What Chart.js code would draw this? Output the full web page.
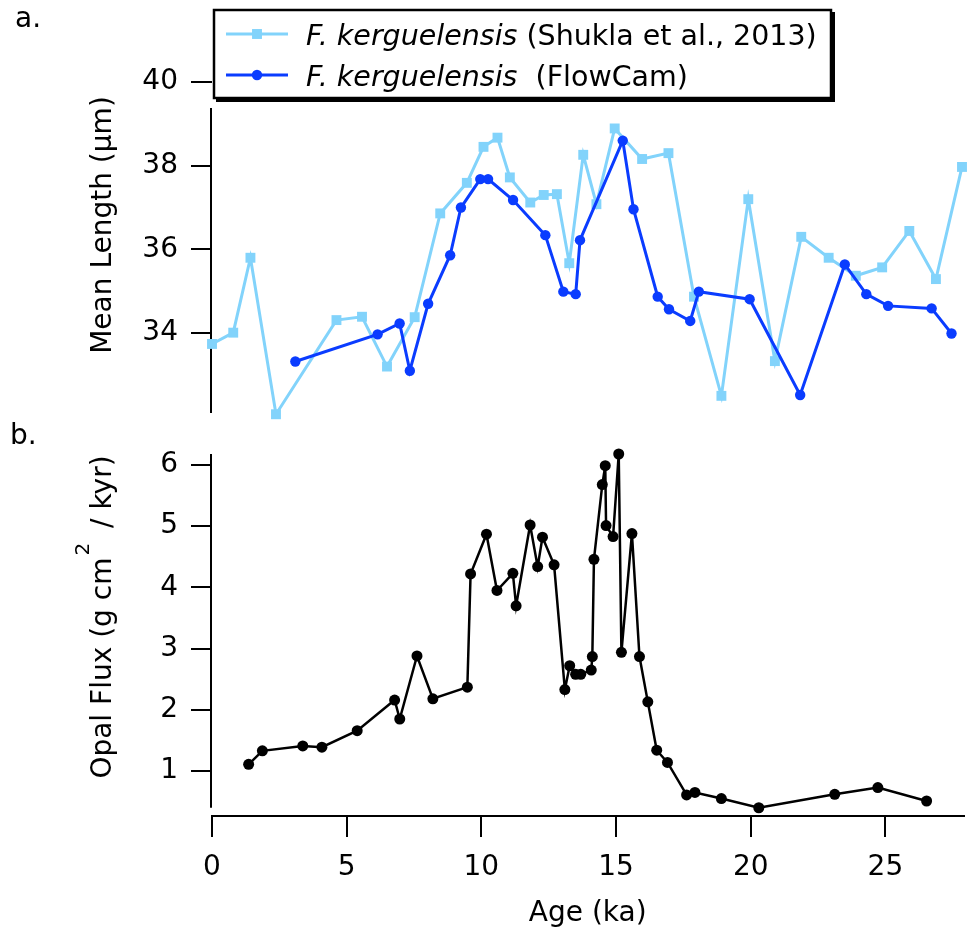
<!DOCTYPE html>
<html>
<head>
<meta charset="utf-8">
<title>F. kerguelensis mean length and opal flux</title>
<script src="https://cdn.jsdelivr.net/npm/chart.js@4.4.1/dist/chart.umd.min.js"></script>
<style>
  html, body { margin: 0; padding: 0; background: #fff; }
  #wrap { position: relative; width: 969px; height: 935px; }
  #wrap canvas { position: absolute; left: 0; top: 0; }
</style>
</head>
<body>
<div id="wrap">
  <canvas id="lengthChart" width="969" height="935"></canvas>
  <canvas id="opalChart" width="969" height="935"></canvas>
</div>
<script>
// ======================= DATA =======================

// panel a: Shukla et al., 2013
const ageShukla = [0, 0.79, 1.43, 2.38, 4.63, 5.58, 6.51, 7.54, 8.49, 9.48, 10.1, 10.62,
  11.08, 11.84, 12.34, 12.83, 13.29, 13.81, 14.3, 14.98, 16.0, 16.98, 17.93, 18.95,
  19.95, 20.94, 21.92, 22.94, 23.95, 24.93, 25.94, 26.93, 27.9];
const lenShukla = [33.74, 34.01, 35.8, 32.06, 34.31, 34.39, 33.2, 34.38, 36.86, 37.59, 38.45, 38.67,
  37.72, 37.12, 37.3, 37.32, 35.67, 38.26, 37.08, 38.89, 38.16, 38.3, 34.87, 32.5,
  37.2, 33.33, 36.3, 35.8, 35.37, 35.57, 36.44, 35.29, 37.97];

// panel a: FlowCam
const ageFlowCam = [3.1, 6.16, 6.98, 7.36, 8.04, 8.86, 9.26, 9.98, 10.27, 11.2, 12.4, 13.07,
  13.53, 13.69, 15.28, 15.68, 16.58, 17.0, 17.79, 18.11, 20.0, 21.88, 23.54, 24.34,
  25.15, 26.77, 27.51];
const lenFlowCam = [33.32, 33.97, 34.23, 33.1, 34.7, 35.86, 37.0, 37.68, 37.68, 37.18, 36.34, 34.99,
  34.93, 36.22, 38.6, 36.96, 34.87, 34.57, 34.29, 34.99, 34.81, 32.52, 35.64, 34.93,
  34.65, 34.59, 33.99];

// panel b: opal flux
const ageOpal = [1.36, 1.87, 3.37, 4.08, 5.39, 6.78, 6.97, 7.61, 8.2, 9.48, 9.6, 10.19,
  10.58, 11.17, 11.29, 11.81, 12.09, 12.27, 12.7, 13.1, 13.28, 13.5, 13.69, 14.08,
  14.12, 14.18, 14.49, 14.6, 14.63, 14.89, 15.1, 15.2, 15.59, 15.87, 16.18, 16.51,
  16.91, 17.62, 17.93, 18.91, 20.3, 23.12, 24.72, 26.53];
const opalFlux = [1.11, 1.33, 1.41, 1.39, 1.66, 2.16, 1.85, 2.88, 2.18, 2.37, 4.22, 4.87,
  3.95, 4.23, 3.70, 5.02, 4.34, 4.82, 4.37, 2.33, 2.72, 2.58, 2.58, 2.65,
  2.87, 4.46, 5.68, 5.99, 5.01, 4.83, 6.18, 2.94, 4.88, 2.87, 2.13, 1.34,
  1.14, 0.61, 0.65, 0.55, 0.40, 0.62, 0.73, 0.51];

const lengthTicks = [34, 36, 38, 40];
const opalTicks = [1, 2, 3, 4, 5, 6];
const ageTicks = [0, 5, 10, 15, 20, 25];

// ======================= STYLE =======================

const FONT = "'DejaVu Sans', sans-serif";
const LIGHT = '#82d3fb';
const BLUE = '#0a3cff';
const AXIS_W = 212;   // room left of the plot for labels + title

function toPoints(xs, ys) {
  return xs.map((x, i) => ({ x: x, y: ys[i] }));
}

function ageScale(show) {
  return {
    type: 'linear',
    min: 0,
    max: 27.9,
    display: show,
    afterBuildTicks: s => { s.ticks = ageTicks.map(v => ({ value: v })); },
    afterFit: s => { s.height = show ? 119 : 0; },
    border: { display: true, color: '#000', width: 2 },
    grid: { drawOnChartArea: false, tickLength: 21, color: '#000', lineWidth: 2 },
    ticks: { color: '#000', font: { family: FONT, size: 28 }, padding: 14, maxRotation: 0 },
    title: {
      display: true, text: 'Age (ka)', color: '#000',
      font: { family: FONT, size: 28 }, padding: { top: 0, bottom: 4 }
    }
  };
}

function valueScale(min, max, ticks) {
  return {
    type: 'linear',
    min: min,
    max: max,
    afterBuildTicks: s => { s.ticks = ticks.map(v => ({ value: v })); },
    afterFit: s => { s.width = AXIS_W; },
    border: { display: false },
    grid: { drawOnChartArea: false, tickLength: 21, color: '#000', lineWidth: 2 },
    ticks: { color: '#000', font: { family: FONT, size: 28 }, padding: 13 }
  };
}

// ======================= PLUGINS =======================

// Igor-style left axis that does not run the full height of the plot
const axisLinePlugin = {
  id: 'axisLine',
  beforeDatasetsDraw(chart, args, opts) {
    const y = chart.scales.y;
    const ctx = chart.ctx;
    ctx.save();
    ctx.strokeStyle = '#000';
    ctx.lineWidth = 2;
    ctx.beginPath();
    ctx.moveTo(y.right - 1, y.getPixelForValue(opts.from));
    ctx.lineTo(y.right - 1, y.getPixelForValue(opts.to));
    ctx.stroke();
    ctx.restore();
  }
};

// rotated title made of pieces, some of them raised (superscripts)
function drawRotatedTitle(ctx, parts, cx, cy) {
  ctx.save();
  ctx.translate(cx, cy);
  ctx.rotate(-Math.PI / 2);
  ctx.fillStyle = '#000';
  ctx.textBaseline = 'alphabetic';
  ctx.textAlign = 'left';
  let total = 0;
  parts.forEach(p => {
    ctx.font = p.size + 'px ' + FONT;
    p.w = ctx.measureText(p.text).width + (p.gap || 0);
    total += p.w;
  });
  let x = -total / 2;
  parts.forEach(p => {
    ctx.font = p.size + 'px ' + FONT;
    ctx.fillText(p.text, x, -(p.rise || 0));
    x += p.w;
  });
  ctx.restore();
}

const decorPlugin = {
  id: 'decor',
  afterDraw(chart, args, opts) {
    const ctx = chart.ctx;
    ctx.save();
    ctx.fillStyle = '#000';
    ctx.font = '28px ' + FONT;
    ctx.textBaseline = 'alphabetic';
    ctx.textAlign = 'left';
    ctx.fillText(opts.letter.text, opts.letter.x, opts.letter.y);
    ctx.restore();

    drawRotatedTitle(ctx, opts.title.parts, opts.title.x, opts.title.y);

    if (opts.legend) drawLegend(chart, opts.legend);
  }
};

function drawLegend(chart, lg) {
  const ctx = chart.ctx;
  ctx.save();
  ctx.fillStyle = '#000';
  ctx.fillRect(lg.x + 3, lg.y + 3, lg.w, lg.h);
  ctx.fillStyle = '#fff';
  ctx.fillRect(lg.x, lg.y, lg.w, lg.h);
  ctx.strokeStyle = '#000';
  ctx.lineWidth = 2.5;
  ctx.strokeRect(lg.x + 1, lg.y + 1, lg.w - 2, lg.h - 2);

  lg.rows.forEach(row => {
    const ds = chart.data.datasets[row.dataset];
    const cy = row.y;
    ctx.strokeStyle = ds.borderColor;
    ctx.fillStyle = ds.backgroundColor;
    ctx.lineWidth = ds.borderWidth;
    ctx.beginPath();
    ctx.moveTo(lg.x + 13, cy);
    ctx.lineTo(lg.x + 75, cy);
    ctx.stroke();
    const mx = lg.x + 44;
    if (ds.pointStyle === 'rect') {
      const s = ds.pointRadius * Math.SQRT1_2;
      ctx.fillRect(mx - s, cy - s, 2 * s, 2 * s);
    } else {
      ctx.beginPath();
      ctx.arc(mx, cy, ds.pointRadius, 0, Math.PI * 2);
      ctx.fill();
    }
    ctx.fillStyle = '#000';
    ctx.textBaseline = 'alphabetic';
    let tx = lg.x + 93;
    ctx.font = 'italic 28.5px ' + FONT;
    ctx.fillText(row.italic, tx, cy + 11);
    tx += ctx.measureText(row.italic).width;
    ctx.font = '28.5px ' + FONT;
    ctx.fillText(row.rest, tx, cy + 11);
  });
  ctx.restore();
}

// ======================= PANEL A: MEAN LENGTH =======================

new Chart(document.getElementById('lengthChart'), {
  type: 'line',
  data: {
    datasets: [
      {
        label: 'F. kerguelensis (Shukla et al., 2013)',
        data: toPoints(ageShukla, lenShukla),
        borderColor: LIGHT,
        backgroundColor: LIGHT,
        borderWidth: 3,
        pointStyle: 'rect',
        pointRadius: 7,
        pointBorderWidth: 0,
        order: 2,
        clip: false
      },
      {
        label: 'F. kerguelensis (FlowCam)',
        data: toPoints(ageFlowCam, lenFlowCam),
        borderColor: BLUE,
        backgroundColor: BLUE,
        borderWidth: 3,
        pointStyle: 'circle',
        pointRadius: 5.2,
        pointBorderWidth: 0,
        order: 1,
        clip: false
      }
    ]
  },
  options: {
    responsive: false,
    animation: false,
    events: [],
    layout: { padding: { top: 82, bottom: 522, left: 0, right: 0 } },
    scales: {
      x: ageScale(false),
      y: valueScale(32.09, 40, lengthTicks)
    },
    plugins: {
      legend: { display: false },
      tooltip: { enabled: false },
      axisLine: { from: 39.38, to: 32.09 },
      decor: {
        letter: { text: 'a.', x: 15, y: 27 },
        title: { x: 111, y: 225, parts: [{ text: 'Mean Length (\u03bcm)', size: 28 }] },
        legend: {
          x: 213, y: 9, w: 619, h: 90,
          rows: [
            { dataset: 0, y: 34, italic: 'F. kerguelensis', rest: ' (Shukla et al., 2013)' },
            { dataset: 1, y: 75, italic: 'F. kerguelensis', rest: '  (FlowCam)' }
          ]
        }
      }
    }
  },
  plugins: [axisLinePlugin, decorPlugin]
});

// ======================= PANEL B: OPAL FLUX =======================

new Chart(document.getElementById('opalChart'), {
  type: 'line',
  data: {
    datasets: [{
      label: 'Opal Flux',
      data: toPoints(ageOpal, opalFlux),
      borderColor: '#000',
      backgroundColor: '#000',
      borderWidth: 2.5,
      pointStyle: 'circle',
      pointRadius: 5.5,
      pointBorderWidth: 0,
      clip: false
    }]
  },
  options: {
    responsive: false,
    animation: false,
    events: [],
    layout: { padding: { top: 454, bottom: 0, left: 0, right: 0 } },
    scales: {
      x: ageScale(true),
      y: valueScale(0.265, 6.18, opalTicks)
    },
    plugins: {
      legend: { display: false },
      tooltip: { enabled: false },
      axisLine: { from: 6.18, to: 0.40 },
      decor: {
        letter: { text: 'b.', x: 10, y: 444 },
        title: {
          x: 111, y: 617,
          parts: [
            { text: 'Opal Flux (g cm', size: 28, gap: 2 },
            { text: '2', size: 20, rise: 22, gap: 6 },
            { text: ' / kyr)', size: 28 }
          ]
        }
      }
    }
  },
  plugins: [axisLinePlugin, decorPlugin]
});
</script>
</body>
</html>
